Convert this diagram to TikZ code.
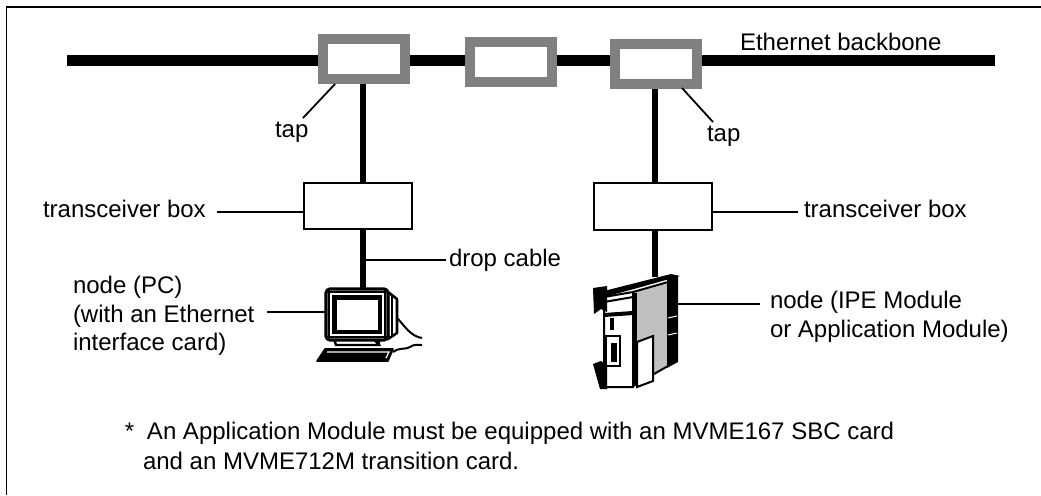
\documentclass[tikz,border=0pt]{standalone}
\usepackage{fontspec}
\setmainfont{Liberation Sans}
\definecolor{tapgray}{HTML}{808080}
\definecolor{panelgray}{HTML}{C0C0C0}
\begin{document}
\begin{tikzpicture}[x=0.5pt,y=-0.5pt,
  lbl/.style={inner sep=0pt, outer sep=0pt, font=\fontsize{12}{14.5}\selectfont, anchor=base west},
  tapbox/.style={draw=tapgray, line width=5pt, fill=white, inner sep=0pt,
    minimum width=41pt, minimum height=20pt},
  xbox/.style={draw, line width=1pt, fill=white, inner sep=0pt},
  backbone/.style={line width=5.5pt},
  drop/.style={line width=2.75pt},
  lead/.style={line width=0.9pt},
  frame/.style={line width=0.7pt}
]
\useasboundingbox (0,0) rectangle (1041,495);

% page frame (top and left edges)
\draw[frame] (6.5,495) -- (6.5,7) -- (1041,7);

% backbone and taps
\coordinate (bbW) at (67,60.5);
\coordinate (bbE) at (995,60.5);
\draw[backbone] (bbW) -- (bbE);
\node[tapbox] (tap1) at (364,59) {};
\node[tapbox] (tap2) at (511,61.5) {};
\node[tapbox] (tap3) at (655.5,64) {};

% transceiver boxes
\node[xbox, minimum width=54pt, minimum height=23pt] (box1) at (358,206) {};
\node[xbox, minimum width=59pt, minimum height=23.5pt] (box2) at (653,206.5) {};

% drop cables
\coordinate (pcTop) at (363,289);
\coordinate (modTop) at (655,277);
\draw[drop] (tap1.south -| pcTop) -- (box1.north -| pcTop);
\draw[drop] (box1.south -| pcTop) -- (pcTop);
\draw[drop] (tap3.south -| modTop) -- (box2.north -| modTop);
\draw[drop] (box2.south -| modTop) -- (modTop);

% ---- PC ----
% keyboard
\draw[fill=black, line width=0.8pt, line join=round] (325,349) -- (393,349) -- (388,361) -- (317,361) -- cycle;
\draw[white, line width=0.6pt] (327,352) -- (389,352) -- (386,358);
% cord
\draw[line width=1pt] (397,318) .. controls (405,326) and (410,336) .. (422,338);
\draw[line width=1pt] (393,352) .. controls (400,347) and (405,350) .. (410,347)
  .. controls (414,344) and (418,345) .. (422,345);
% stand
\draw[fill=white, line width=1.2pt] (334,339) -- (374,339) -- (379,345) -- (336,345) -- cycle;
\fill (372,339) -- (380,339) -- (380,345) -- (378,345) -- cycle;
% casing side
\draw[fill=white, line width=1.3pt, line join=round] (388,292) -- (397,299) -- (397,333) -- (388,339) -- cycle;
\draw[line width=0.8pt] (392,296) -- (392,336);
% casing front
\draw[fill=white, line width=1.6pt, rounded corners=2pt] (326,289) rectangle (388,340);
\draw[line width=0.6pt] (329,292) rectangle (385,337);
% screen
\draw[fill=white, line width=1.6pt] (334,297) rectangle (380,332);
\draw[line width=2.2pt] (335,331) -- (335,298) -- (379,298);

% ---- module ----
% side face
\draw[fill=panelgray, line width=1pt] (633,292) -- (668,282) -- (668,366) -- (633,386) -- cycle;
% dark edge band
\fill (667,279) -- (678,276) -- (678,362) -- (667,368) -- cycle;
\draw[white, line width=0.5pt] (668,318) -- (677,316);
\draw[white, line width=0.5pt] (668,335) -- (677,333);
% front face
\draw[fill=white, line width=1pt] (604,297) -- (633,292) -- (633,387) -- (604,387) -- cycle;
\draw[line width=2.5pt] (634,293) -- (634,386);
% roof
\fill (596,293) -- (671,274) -- (680,276) -- (634,289) -- (600,298) -- cycle;
\draw[line width=1pt] (604,302) -- (633,297);
\draw[line width=2pt] (604,315) -- (633,313);
% lower panel in side face
\draw[fill=white, line width=1pt] (637,342) -- (653,336) -- (653,381) -- (637,387) -- cycle;
% ejector handles
\fill (593,288) -- (607,286) -- (607,312) -- (601,309) -- (594,314) -- cycle;
\fill (593,364) -- (601,361) -- (607,365) -- (607,389) -- (600,389) -- cycle;
% connector
\draw[line width=1.2pt] (606,336) rectangle (620,366);
\fill (611,343) rectangle (617,362);
\fill (610,318) rectangle (614,330);

% ---- labels ----
\node[lbl] (bbl) at (740,50) {Ethernet backbone};

\node[lbl] (tapl1) at (275,137) {tap};
\coordinate (t1a) at (335,84);
\coordinate (t1b) at (303,118);
\draw[lead] (t1a) -- (t1b);

\node[lbl] (tapl2) at (707,141) {tap};
\coordinate (t2a) at (682,88);
\coordinate (t2b) at (713,122);
\draw[lead] (t2a) -- (t2b);

\node[lbl] (xl1) at (43,217) {transceiver box};
\coordinate (x1l) at (217,212);
\draw[lead] (x1l) -- (x1l -| box1.west);

\node[lbl] (xl2) at (804,217) {transceiver box};
\coordinate (x2r) at (798,212);
\draw[lead] (x2r -| box2.east) -- (x2r);

\node[lbl] (dcl) at (449,266) {drop cable};
\coordinate (dcEnd) at (446,260);
\draw[lead] (dcEnd -| pcTop) -- (dcEnd);

\node[lbl] (pcl1) at (73,293) {node (PC)};
\node[lbl] (pcl2) at (73,322) {(with an Ethernet};
\node[lbl] (pcl3) at (73,350) {interface card)};
\coordinate (pcLeadA) at (267,312);
\coordinate (pcLeadB) at (326,312);
\draw[lead] (pcLeadA) -- (pcLeadB);

\node[lbl] (ml1) at (770,308) {node (IPE Module};
\node[lbl] (ml2) at (770,337) {or Application Module)};
\coordinate (mLeadA) at (760,304);
\coordinate (mLeadB) at (678,304);
\draw[lead] (mLeadA) -- (mLeadB);

% footnote
\node[lbl] (fnStar) at (125,439) {*};
\node[lbl] (fn1) at (147,439) {An Application Module must be equipped with an MVME167 SBC card};
\node[lbl] (fn2) at (143,469) {and an MVME712M transition card.};
\end{tikzpicture}
\end{document}
